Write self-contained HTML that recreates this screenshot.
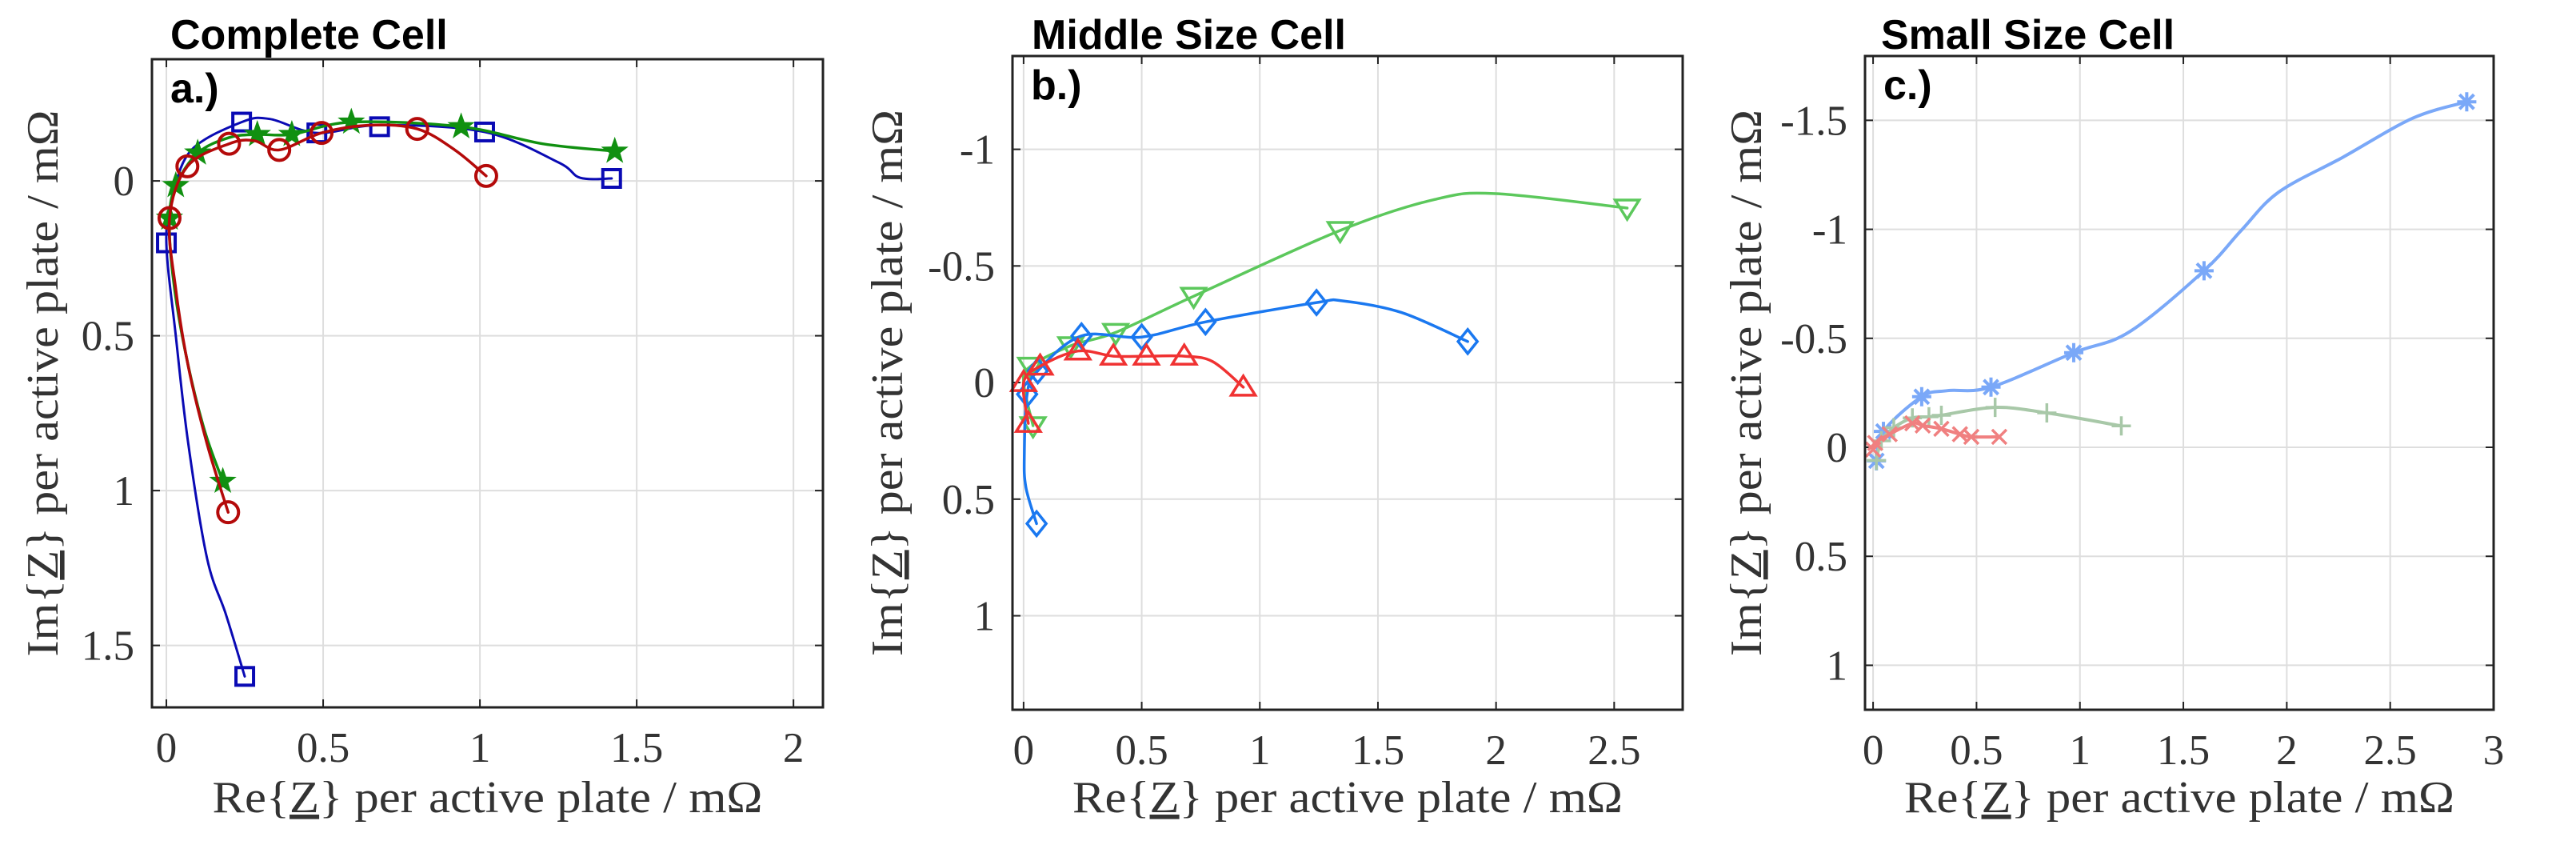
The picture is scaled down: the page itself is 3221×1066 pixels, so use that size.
<!DOCTYPE html>
<html><head><meta charset="utf-8">
<style>
html,body{margin:0;padding:0;background:#fff;}
svg{display:block;}
</style></head>
<body>
<svg id="fig" width="3221" height="1066" viewBox="0 0 3221 1066" xmlns="http://www.w3.org/2000/svg"></svg>
<script>
// ---------- Panel A data (Complete Cell) ----------
const aBlueCurveX=[0.25,0.19,0.13,0.07,0.03,0.0,0.02,0.08,0.24,0.33,0.48,0.68,1.015,1.25,1.32,1.42];
const aBlueCurveY=[1.60,1.40,1.22,0.85,0.50,0.20,0.05,-0.10,-0.19,-0.20,-0.155,-0.18,-0.158,-0.06,-0.01,-0.008];
const aBlueMarkX=[0.0,0.24,0.48,0.68,1.015,1.42,0.25];
const aBlueMarkY=[0.20,-0.19,-0.155,-0.175,-0.158,-0.008,1.60];
const aGreenCurveX=[0.18,0.12,0.06,0.02,0.01,0.03,0.10,0.20,0.29,0.40,0.59,0.94,1.2,1.43];
const aGreenCurveY=[0.97,0.80,0.55,0.30,0.12,0.015,-0.09,-0.14,-0.15,-0.15,-0.19,-0.175,-0.12,-0.096];
const aGreenMarkX=[0.18,0.01,0.03,0.10,0.29,0.40,0.59,0.94,1.43];
const aGreenMarkY=[0.97,0.12,0.015,-0.09,-0.15,-0.15,-0.19,-0.175,-0.096];
const aRedCurveX=[0.197,0.13,0.07,0.03,0.01,0.067,0.20,0.28,0.36,0.495,0.65,0.80,0.92,1.02];
const aRedCurveY=[1.07,0.85,0.60,0.35,0.12,-0.047,-0.12,-0.13,-0.10,-0.155,-0.18,-0.168,-0.10,-0.016];
const aRedMarkX=[0.197,0.01,0.067,0.20,0.36,0.495,0.80,1.02];
const aRedMarkY=[1.07,0.12,-0.047,-0.12,-0.10,-0.155,-0.168,-0.016];
const aXTicks=[0,0.5,1,1.5,2];
const aXTickLabels=["0","0.5","1","1.5","2"];
const aYTicks=[0,0.5,1,1.5];
const aYTickLabels=["0","0.5","1","1.5"];

// ---------- Panel B data (Middle Size Cell) ----------
const bGreenCurveX=[0.04,0.0,0.03,0.2,0.39,0.72,1.34,1.74,2.0,2.555];
const bGreenCurveY=[0.185,0.0,-0.07,-0.158,-0.215,-0.37,-0.652,-0.785,-0.81,-0.748];
const bGreenMarkX=[0.04,0.03,0.2,0.39,0.72,1.34,2.555];
const bGreenMarkY=[0.185,-0.07,-0.158,-0.215,-0.37,-0.652,-0.748];
const bBlueCurveX=[0.055,0.01,0.003,0.015,0.06,0.245,0.5,0.77,1.24,1.35,1.6,1.88];
const bBlueCurveY=[0.605,0.45,0.31,0.05,-0.05,-0.2,-0.195,-0.26,-0.343,-0.35,-0.3,-0.176];
const bBlueMarkX=[0.055,0.015,0.06,0.245,0.5,0.77,1.24,1.88];
const bBlueMarkY=[0.605,0.05,-0.05,-0.2,-0.195,-0.26,-0.343,-0.176];
const bRedCurveX=[0.02,0.0,0.07,0.23,0.38,0.52,0.68,0.8,0.93];
const bRedCurveY=[0.175,0.0,-0.07,-0.135,-0.113,-0.113,-0.113,-0.09,0.02];
const bRedMarkX=[0.02,0.0,0.07,0.23,0.38,0.52,0.68,0.93];
const bRedMarkY=[0.175,0.0,-0.07,-0.135,-0.113,-0.113,-0.113,0.02];
const bXTicks=[0,0.5,1,1.5,2,2.5];
const bXTickLabels=["0","0.5","1","1.5","2","2.5"];
const bYTicks=[-1,-0.5,0,0.5,1];
const bYTickLabels=["-1","-0.5","0","0.5","1"];

// ---------- Panel C data (Small Size Cell) ----------
const cBlueCurveX=[0.016,0.05,0.235,0.36,0.57,0.97,1.24,1.6,1.78,1.96,2.27,2.61,2.87];
const cBlueCurveY=[0.062,-0.073,-0.232,-0.26,-0.276,-0.434,-0.53,-0.81,-0.995,-1.17,-1.33,-1.51,-1.585];
const cBlueMarkX=[0.016,0.05,0.235,0.57,0.97,1.6,2.87];
const cBlueMarkY=[0.062,-0.073,-0.232,-0.276,-0.434,-0.81,-1.585];
const cGreenCurveX=[0.016,0.04,0.1,0.19,0.27,0.33,0.59,0.84,1.2];
const cGreenCurveY=[0.06,-0.03,-0.09,-0.135,-0.14,-0.147,-0.183,-0.158,-0.098];
const cGreenMarkX=[0.016,0.04,0.1,0.19,0.27,0.33,0.59,0.84,1.2];
const cGreenMarkY=[0.06,-0.03,-0.09,-0.135,-0.14,-0.147,-0.183,-0.158,-0.098];
const cRedCurveX=[0.0,0.01,0.08,0.19,0.24,0.33,0.42,0.475,0.61];
const cRedCurveY=[0.01,-0.02,-0.06,-0.11,-0.1,-0.085,-0.06,-0.048,-0.048];
const cRedMarkX=[0.0,0.01,0.08,0.19,0.24,0.33,0.42,0.475,0.61];
const cRedMarkY=[0.01,-0.02,-0.06,-0.11,-0.1,-0.085,-0.06,-0.048,-0.048];
const cXTicks=[0,0.5,1,1.5,2,2.5,3];
const cXTickLabels=["0","0.5","1","1.5","2","2.5","3"];
const cYTicks=[-1.5,-1,-0.5,0,0.5,1];
const cYTickLabels=["-1.5","-1","-0.5","0","0.5","1"];

const NS="http://www.w3.org/2000/svg";
const svg=document.getElementById('fig');
function mk(tag,attrs,parent){const e=document.createElementNS(NS,tag);for(const k in attrs)e.setAttribute(k,attrs[k]);(parent||svg).appendChild(e);return e;}

function smoothPath(pts){
  if(pts.length<2)return '';
  let d='M'+pts[0][0].toFixed(1)+','+pts[0][1].toFixed(1);
  for(let i=0;i<pts.length-1;i++){
    const p0=pts[i-1]||pts[i],p1=pts[i],p2=pts[i+1],p3=pts[i+2]||p2;
    const c1=[p1[0]+(p2[0]-p0[0])/6,p1[1]+(p2[1]-p0[1])/6];
    const c2=[p2[0]-(p3[0]-p1[0])/6,p2[1]-(p3[1]-p1[1])/6];
    d+=' C'+c1[0].toFixed(1)+','+c1[1].toFixed(1)+' '+c2[0].toFixed(1)+','+c2[1].toFixed(1)+' '+p2[0].toFixed(1)+','+p2[1].toFixed(1);
  }
  return d;
}

function marker(g,type,x,y,color,sw){
  const s=11;let e;
  if(type==='square'){e=mk('rect',{x:x-s,y:y-s,width:2*s,height:2*s,fill:'none',stroke:color,'stroke-width':sw},g);}
  else if(type==='circle'){e=mk('circle',{cx:x,cy:y,r:13,fill:'none',stroke:color,'stroke-width':sw},g);}
  else if(type==='star'){let p=[];for(let i=0;i<10;i++){const r=i%2?6:15;const a=-Math.PI/2+i*Math.PI/5;p.push((x+r*Math.cos(a)).toFixed(1)+','+(y+r*Math.sin(a)).toFixed(1));}
    e=mk('polygon',{points:p.join(' '),fill:color,stroke:color,'stroke-width':2},g);}
  else if(type==='diamond'){e=mk('polygon',{points:`${x},${y-15} ${x+12},${y} ${x},${y+15} ${x-12},${y}`,fill:'none',stroke:color,'stroke-width':sw},g);}
  else if(type==='tridown'){e=mk('polygon',{points:`${x-15},${y-10} ${x+15},${y-10} ${x},${y+14}`,fill:'none',stroke:color,'stroke-width':sw},g);}
  else if(type==='triup'){e=mk('polygon',{points:`${x-15},${y+10} ${x+15},${y+10} ${x},${y-14}`,fill:'none',stroke:color,'stroke-width':sw},g);}
  else if(type==='aster'){e=mk('path',{d:`M${x-12},${y}H${x+12}M${x},${y-12}V${y+12}M${x-9},${y-9}L${x+9},${y+9}M${x-9},${y+9}L${x+9},${y-9}`,stroke:color,'stroke-width':sw,fill:'none'},g);}
  else if(type==='plus'){e=mk('path',{d:`M${x-12},${y}H${x+12}M${x},${y-12}V${y+12}`,stroke:color,'stroke-width':sw,fill:'none'},g);}
  else if(type==='cross'){e=mk('path',{d:`M${x-9},${y-9}L${x+9},${y+9}M${x-9},${y+9}L${x+9},${y-9}`,stroke:color,'stroke-width':sw,fill:'none'},g);}
  
  
}

function panel(cfg){
  const g=mk('g',{});
  
  
  const L=cfg.box[0],T=cfg.box[1],R=cfg.box[2],B=cfg.box[3];
  const sx=v=>L+(v-cfg.xr[0])/(cfg.xr[1]-cfg.xr[0])*(R-L);
  const sy=v=>T+(v-cfg.yr[0])/(cfg.yr[1]-cfg.yr[0])*(B-T);
  cfg.xt.forEach((v,i)=>{
    const gl=mk('line',{x1:sx(v),x2:sx(v),y1:T,y2:B,stroke:'#dedede','stroke-width':2},g);
    
    mk('line',{x1:sx(v),x2:sx(v),y1:B,y2:B-10,stroke:'#222','stroke-width':2},g);
    mk('line',{x1:sx(v),x2:sx(v),y1:T,y2:T+10,stroke:'#222','stroke-width':2},g);
    const t=mk('text',{x:sx(v),y:B+68,'text-anchor':'middle','font-family':'"Liberation Serif",serif','font-size':53,fill:'#333'},g);
    t.textContent=cfg.xtl[i];
  });
  cfg.yt.forEach((v,i)=>{
    const gl=mk('line',{x1:L,x2:R,y1:sy(v),y2:sy(v),stroke:'#dedede','stroke-width':2},g);
    
    mk('line',{x1:L,x2:L+10,y1:sy(v),y2:sy(v),stroke:'#222','stroke-width':2},g);
    mk('line',{x1:R,x2:R-10,y1:sy(v),y2:sy(v),stroke:'#222','stroke-width':2},g);
    const t=mk('text',{x:L-22,y:sy(v)+18,'text-anchor':'end','font-family':'"Liberation Serif",serif','font-size':53,fill:'#333'},g);
    t.textContent=cfg.ytl[i];
  });
  cfg.series.forEach(s=>{
    const pts=s.cx.map((x,i)=>[sx(x),sy(s.cy[i])]);
    const p=mk('path',{d:smoothPath(pts),fill:'none',stroke:s.color,'stroke-width':s.lw,'stroke-linejoin':'round','stroke-linecap':'round'},g);
    
    s.mx.forEach((x,i)=>marker(g,s.type,sx(x),sy(s.my[i]),s.color,s.msw));
  });
  const bx=mk('rect',{x:L,y:T,width:R-L,height:B-T,fill:'none',stroke:'#222','stroke-width':3},g);
  
  const tt=mk('text',{x:cfg.titleX,y:61,'font-family':'"Liberation Sans",sans-serif','font-weight':'bold','font-size':52,fill:'#000'},g);
  tt.textContent=cfg.title;
  const pl=mk('text',{x:L+23,y:T+54,'font-family':'"Liberation Sans",sans-serif','font-weight':'bold','font-size':52,fill:'#000'},g);
  pl.textContent=cfg.letter;
  const xl=mk('text',{x:(L+R)/2+cfg.xlOff,y:1015,'text-anchor':'middle','font-family':'"Liberation Serif",serif','font-size':56,fill:'#333',textLength:688,lengthAdjust:'spacingAndGlyphs'},g);
  xl.innerHTML='Re{<tspan text-decoration="underline">Z</tspan>} per active plate / mΩ';
  
  const yx=cfg.ylX, yy=(T+B)/2;
  const yl=mk('text',{x:yx,y:yy,'text-anchor':'middle','font-family':'"Liberation Serif",serif','font-size':56,fill:'#333',textLength:683,lengthAdjust:'spacingAndGlyphs',transform:`rotate(-90 ${yx} ${yy})`},g);
  yl.innerHTML='Im{<tspan text-decoration="underline">Z</tspan>} per active plate / mΩ';
  
}

panel({name:'panel-complete-cell',box:[190,74,1029,884],xr:[-0.046,2.094],yr:[-0.393,1.70],
  xt:aXTicks,xtl:aXTickLabels,yt:aYTicks,ytl:aYTickLabels,title:'Complete Cell',titleX:213,letter:'a.)',xlOff:0,ylX:72,
  series:[
   {name:'blue-square',cx:aBlueCurveX,cy:aBlueCurveY,mx:aBlueMarkX,my:aBlueMarkY,color:'#0a0ab4',lw:3,msw:4,type:'square'},
   {name:'green-star',cx:aGreenCurveX,cy:aGreenCurveY,mx:aGreenMarkX,my:aGreenMarkY,color:'#109010',lw:3.5,msw:3,type:'star'},
   {name:'red-circle',cx:aRedCurveX,cy:aRedCurveY,mx:aRedMarkX,my:aRedMarkY,color:'#b40a0a',lw:3.5,msw:4,type:'circle'}]});
panel({name:'panel-middle-cell',box:[1266,70,2104,887],xr:[-0.047,2.79],yr:[-1.40,1.403],
  xt:bXTicks,xtl:bXTickLabels,yt:bYTicks,ytl:bYTickLabels,title:'Middle Size Cell',titleX:1290,letter:'b.)',xlOff:0,ylX:1128,
  series:[
   {name:'green-triangle-down',cx:bGreenCurveX,cy:bGreenCurveY,mx:bGreenMarkX,my:bGreenMarkY,color:'#5cc85c',lw:3.5,msw:3.5,type:'tridown'},
   {name:'blue-diamond',cx:bBlueCurveX,cy:bBlueCurveY,mx:bBlueMarkX,my:bBlueMarkY,color:'#1a78f0',lw:3.5,msw:3.5,type:'diamond'},
   {name:'red-triangle-up',cx:bRedCurveX,cy:bRedCurveY,mx:bRedMarkX,my:bRedMarkY,color:'#f03232',lw:3.5,msw:3.5,type:'triup'}]});
panel({name:'panel-small-cell',box:[2332,70,3118,887],xr:[-0.039,3.0],yr:[-1.795,1.204],
  xt:cXTicks,xtl:cXTickLabels,yt:cYTicks,ytl:cYTickLabels,title:'Small Size Cell',titleX:2352,letter:'c.)',xlOff:0,ylX:2202,
  series:[
   {name:'blue-asterisk',cx:cBlueCurveX,cy:cBlueCurveY,mx:cBlueMarkX,my:cBlueMarkY,color:'#7aa8f8',lw:4,msw:4,type:'aster'},
   {name:'green-plus',cx:cGreenCurveX,cy:cGreenCurveY,mx:cGreenMarkX,my:cGreenMarkY,color:'#a8c8a8',lw:4,msw:3.5,type:'plus'},
   {name:'red-cross',cx:cRedCurveX,cy:cRedCurveY,mx:cRedMarkX,my:cRedMarkY,color:'#f08080',lw:4,msw:3.5,type:'cross'}]});
</script>
</body></html>
